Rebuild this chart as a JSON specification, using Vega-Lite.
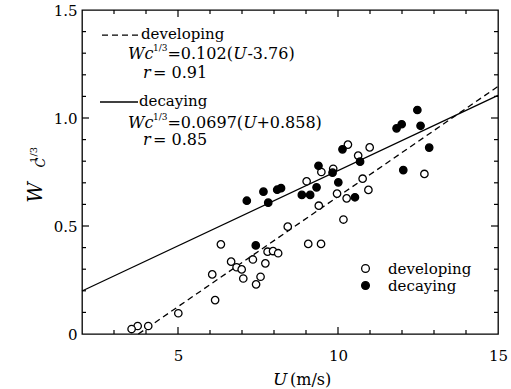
{
  "$schema": "https://vega.github.io/schema/vega-lite/v6.json",
  "width": 416,
  "height": 324,
  "autosize": {"type": "none"},
  "padding": {"left": 82, "top": 10, "right": 13, "bottom": 55},
  "background": "white",
  "config": {
    "font": "DejaVu Serif",
    "view": {"stroke": "black", "strokeWidth": 1.3},
    "axis": {"grid": false, "title": null, "domain": false, "ticks": false, "tickSize": 0, "labelColor": "black", "labelFont": "DejaVu Serif", "labelFontSize": 15, "labelFlush": false, "labelOverlap": false}
  },
  "datasets": {
    "pts": [
      {"U": 10.31, "W": 0.877, "type": "developing"},
      {"U": 10.63, "W": 0.826, "type": "developing"},
      {"U": 10.99, "W": 0.864, "type": "developing"},
      {"U": 9.02, "W": 0.707, "type": "developing"},
      {"U": 9.48, "W": 0.75, "type": "developing"},
      {"U": 9.85, "W": 0.765, "type": "developing"},
      {"U": 9.97, "W": 0.65, "type": "developing"},
      {"U": 10.27, "W": 0.628, "type": "developing"},
      {"U": 10.77, "W": 0.719, "type": "developing"},
      {"U": 10.95, "W": 0.667, "type": "developing"},
      {"U": 9.4, "W": 0.594, "type": "developing"},
      {"U": 10.17, "W": 0.53, "type": "developing"},
      {"U": 8.43, "W": 0.497, "type": "developing"},
      {"U": 12.7, "W": 0.741, "type": "developing"},
      {"U": 6.34, "W": 0.415, "type": "developing"},
      {"U": 6.66, "W": 0.335, "type": "developing"},
      {"U": 6.83, "W": 0.309, "type": "developing"},
      {"U": 6.99, "W": 0.299, "type": "developing"},
      {"U": 7.04, "W": 0.257, "type": "developing"},
      {"U": 7.34, "W": 0.345, "type": "developing"},
      {"U": 7.73, "W": 0.327, "type": "developing"},
      {"U": 7.8, "W": 0.381, "type": "developing"},
      {"U": 7.97, "W": 0.384, "type": "developing"},
      {"U": 8.13, "W": 0.374, "type": "developing"},
      {"U": 7.58, "W": 0.265, "type": "developing"},
      {"U": 7.44, "W": 0.23, "type": "developing"},
      {"U": 6.07, "W": 0.276, "type": "developing"},
      {"U": 6.16, "W": 0.157, "type": "developing"},
      {"U": 5.01, "W": 0.096, "type": "developing"},
      {"U": 4.07, "W": 0.037, "type": "developing"},
      {"U": 3.74, "W": 0.037, "type": "developing"},
      {"U": 3.55, "W": 0.023, "type": "developing"},
      {"U": 9.07, "W": 0.417, "type": "developing"},
      {"U": 9.47, "W": 0.417, "type": "developing"},
      {"U": 7.15, "W": 0.617, "type": "decaying"},
      {"U": 7.67, "W": 0.659, "type": "decaying"},
      {"U": 7.82, "W": 0.608, "type": "decaying"},
      {"U": 8.1, "W": 0.668, "type": "decaying"},
      {"U": 8.22, "W": 0.675, "type": "decaying"},
      {"U": 8.87, "W": 0.644, "type": "decaying"},
      {"U": 9.13, "W": 0.644, "type": "decaying"},
      {"U": 9.33, "W": 0.679, "type": "decaying"},
      {"U": 9.39, "W": 0.779, "type": "decaying"},
      {"U": 9.83, "W": 0.747, "type": "decaying"},
      {"U": 10.01, "W": 0.702, "type": "decaying"},
      {"U": 10.14, "W": 0.855, "type": "decaying"},
      {"U": 10.53, "W": 0.633, "type": "decaying"},
      {"U": 10.69, "W": 0.798, "type": "decaying"},
      {"U": 12.48, "W": 1.037, "type": "decaying"},
      {"U": 11.83, "W": 0.952, "type": "decaying"},
      {"U": 11.99, "W": 0.971, "type": "decaying"},
      {"U": 12.58, "W": 0.964, "type": "decaying"},
      {"U": 12.85, "W": 0.863, "type": "decaying"},
      {"U": 12.04, "W": 0.759, "type": "decaying"},
      {"U": 7.43, "W": 0.41, "type": "decaying"}
    ],
    "fits": [
      {"series": "developing", "U": 3.76, "W": 0.0},
      {"series": "developing", "U": 15, "W": 1.146},
      {"series": "decaying", "U": 2, "W": 0.199},
      {"series": "decaying", "U": 15, "W": 1.105}
    ],
    "xmaj": [{"v": 5}, {"v": 10}],
    "xmin": [{"v": 3}, {"v": 4}, {"v": 6}, {"v": 7}, {"v": 8}, {"v": 9}, {"v": 11}, {"v": 12}, {"v": 13}, {"v": 14}],
    "ymaj": [{"v": 0.5}, {"v": 1.0}],
    "ymin": [{"v": 0.1}, {"v": 0.2}, {"v": 0.3}, {"v": 0.4}, {"v": 0.6}, {"v": 0.7}, {"v": 0.8}, {"v": 0.9}, {"v": 1.1}, {"v": 1.2}, {"v": 1.3}, {"v": 1.4}],
    "one": [{}]
  },
  "layer": [
    {
      "data": {"name": "fits"},
      "transform": [{"filter": "datum.series === 'developing'"}],
      "mark": {"type": "line", "color": "black", "strokeWidth": 1.3, "strokeDash": [6, 4]},
      "encoding": {
        "x": {"field": "U", "type": "quantitative", "scale": {"domain": [2, 15], "nice": false, "zero": false},
              "axis": {"orient": "bottom", "values": [5, 10, 15], "labelPadding": 14}},
        "y": {"field": "W", "type": "quantitative", "scale": {"domain": [0, 1.5], "nice": false, "zero": false},
              "axis": {"orient": "left", "values": [0, 0.5, 1, 1.5], "labelPadding": 5, "labelExpr": "datum.value == 0 ? '0' : format(datum.value, '.1f')"}}
      }
    },
    {
      "data": {"name": "fits"},
      "transform": [{"filter": "datum.series === 'decaying'"}],
      "mark": {"type": "line", "color": "black", "strokeWidth": 1.3},
      "encoding": {
        "x": {"field": "U", "type": "quantitative"},
        "y": {"field": "W", "type": "quantitative"}
      }
    },
    {
      "data": {"name": "xmaj"},
      "mark": {"type": "rule", "color": "black", "strokeWidth": 1.2},
      "encoding": {"x": {"field": "v", "type": "quantitative"}, "y": {"datum": 0, "type": "quantitative"}, "y2": {"datum": 0.0324}}
    },
    {
      "data": {"name": "xmaj"},
      "mark": {"type": "rule", "color": "black", "strokeWidth": 1.2},
      "encoding": {"x": {"field": "v", "type": "quantitative"}, "y": {"datum": 1.5, "type": "quantitative"}, "y2": {"datum": 1.4676}}
    },
    {
      "data": {"name": "xmin"},
      "mark": {"type": "rule", "color": "black", "strokeWidth": 1.2},
      "encoding": {"x": {"field": "v", "type": "quantitative"}, "y": {"datum": 0, "type": "quantitative"}, "y2": {"datum": 0.0185}}
    },
    {
      "data": {"name": "xmin"},
      "mark": {"type": "rule", "color": "black", "strokeWidth": 1.2},
      "encoding": {"x": {"field": "v", "type": "quantitative"}, "y": {"datum": 1.5, "type": "quantitative"}, "y2": {"datum": 1.4815}}
    },
    {
      "data": {"name": "ymaj"},
      "mark": {"type": "rule", "color": "black", "strokeWidth": 1.2},
      "encoding": {"y": {"field": "v", "type": "quantitative"}, "x": {"datum": 2, "type": "quantitative"}, "x2": {"datum": 2.219}}
    },
    {
      "data": {"name": "ymaj"},
      "mark": {"type": "rule", "color": "black", "strokeWidth": 1.2},
      "encoding": {"y": {"field": "v", "type": "quantitative"}, "x": {"datum": 15, "type": "quantitative"}, "x2": {"datum": 14.781}}
    },
    {
      "data": {"name": "ymin"},
      "mark": {"type": "rule", "color": "black", "strokeWidth": 1.2},
      "encoding": {"y": {"field": "v", "type": "quantitative"}, "x": {"datum": 2, "type": "quantitative"}, "x2": {"datum": 2.125}}
    },
    {
      "data": {"name": "ymin"},
      "mark": {"type": "rule", "color": "black", "strokeWidth": 1.2},
      "encoding": {"y": {"field": "v", "type": "quantitative"}, "x": {"datum": 15, "type": "quantitative"}, "x2": {"datum": 14.875}}
    },
    {
      "data": {"name": "pts"},
      "mark": {"type": "point", "shape": "circle", "filled": true, "stroke": "black", "strokeWidth": 1.3, "size": 55, "opacity": 1},
      "encoding": {
        "x": {"field": "U", "type": "quantitative"},
        "y": {"field": "W", "type": "quantitative"},
        "fill": {"field": "type", "type": "nominal", "scale": {"domain": ["developing", "decaying"], "range": ["white", "black"]},
                 "legend": {"orient": "none", "legendX": 276, "legendY": 251, "title": null, "labelFontSize": 15, "labelFont": "DejaVu Serif", "labelColor": "black", "symbolType": "circle", "symbolSize": 60, "symbolStrokeColor": "black", "symbolStrokeWidth": 1.3, "labelOffset": 15, "rowPadding": 1, "padding": 0}}
      }
    },
    {
      "data": {"name": "one"},
      "mark": {"type": "rule", "color": "black", "strokeWidth": 1.3, "strokeDash": [6, 4]},
      "encoding": {"x": {"datum": 2.625, "type": "quantitative"}, "x2": {"datum": 3.75}, "y": {"datum": 1.384, "type": "quantitative"}}
    },
    {
      "data": {"name": "one"},
      "mark": {"type": "rule", "color": "black", "strokeWidth": 1.3},
      "encoding": {"x": {"datum": 2.5625, "type": "quantitative"}, "x2": {"datum": 3.75}, "y": {"datum": 1.074, "type": "quantitative"}}
    },
    {
      "data": {"name": "one"},
      "mark": {"type": "text", "align": "left", "baseline": "alphabetic", "fontSize": 15, "color": "black"},
      "encoding": {"x": {"datum": 3.844, "type": "quantitative"}, "y": {"datum": 1.366, "type": "quantitative"}, "text": {"value": "developing"}}
    },
    {
      "data": {"name": "one"},
      "mark": {"type": "text", "align": "left", "baseline": "alphabetic", "fontSize": 15, "color": "black"},
      "encoding": {"x": {"datum": 3.781, "type": "quantitative"}, "y": {"datum": 1.056, "type": "quantitative"}, "text": {"value": "decaying"}}
    },
    {
      "data": {"name": "one"},
      "mark": {"type": "text", "align": "left", "baseline": "alphabetic", "fontSize": 16, "fontStyle": "italic", "color": "black"},
      "encoding": {"x": {"datum": 3.4375, "type": "quantitative"}, "y": {"datum": 1.273, "type": "quantitative"}, "text": {"value": "Wc"}}
    },
    {
      "data": {"name": "one"},
      "mark": {"type": "text", "align": "left", "baseline": "alphabetic", "fontSize": 9, "color": "black"},
      "encoding": {"x": {"datum": 4.22, "type": "quantitative"}, "y": {"datum": 1.31, "type": "quantitative"}, "text": {"value": "1/3"}}
    },
    {
      "data": {"name": "one"},
      "mark": {"type": "text", "align": "left", "baseline": "alphabetic", "fontSize": 16, "color": "black"},
      "encoding": {"x": {"datum": 4.67, "type": "quantitative"}, "y": {"datum": 1.273, "type": "quantitative"}, "text": {"value": "=0.102("}}
    },
    {
      "data": {"name": "one"},
      "mark": {"type": "text", "align": "left", "baseline": "alphabetic", "fontSize": 16, "fontStyle": "italic", "color": "black"},
      "encoding": {"x": {"datum": 6.73, "type": "quantitative"}, "y": {"datum": 1.273, "type": "quantitative"}, "text": {"value": "U"}}
    },
    {
      "data": {"name": "one"},
      "mark": {"type": "text", "align": "left", "baseline": "alphabetic", "fontSize": 16, "color": "black"},
      "encoding": {"x": {"datum": 7.17, "type": "quantitative"}, "y": {"datum": 1.273, "type": "quantitative"}, "text": {"value": "-3.76)"}}
    },
    {
      "data": {"name": "one"},
      "mark": {"type": "text", "align": "left", "baseline": "alphabetic", "fontSize": 16, "fontStyle": "italic", "color": "black"},
      "encoding": {"x": {"datum": 3.906, "type": "quantitative"}, "y": {"datum": 1.185, "type": "quantitative"}, "text": {"value": "r"}}
    },
    {
      "data": {"name": "one"},
      "mark": {"type": "text", "align": "left", "baseline": "alphabetic", "fontSize": 16, "color": "black"},
      "encoding": {"x": {"datum": 4.219, "type": "quantitative"}, "y": {"datum": 1.185, "type": "quantitative"}, "text": {"value": "= 0.91"}}
    },
    {
      "data": {"name": "one"},
      "mark": {"type": "text", "align": "left", "baseline": "alphabetic", "fontSize": 16, "fontStyle": "italic", "color": "black"},
      "encoding": {"x": {"datum": 3.4375, "type": "quantitative"}, "y": {"datum": 0.954, "type": "quantitative"}, "text": {"value": "Wc"}}
    },
    {
      "data": {"name": "one"},
      "mark": {"type": "text", "align": "left", "baseline": "alphabetic", "fontSize": 9, "color": "black"},
      "encoding": {"x": {"datum": 4.22, "type": "quantitative"}, "y": {"datum": 0.991, "type": "quantitative"}, "text": {"value": "1/3"}}
    },
    {
      "data": {"name": "one"},
      "mark": {"type": "text", "align": "left", "baseline": "alphabetic", "fontSize": 16, "color": "black"},
      "encoding": {"x": {"datum": 4.67, "type": "quantitative"}, "y": {"datum": 0.954, "type": "quantitative"}, "text": {"value": "=0.0697("}}
    },
    {
      "data": {"name": "one"},
      "mark": {"type": "text", "align": "left", "baseline": "alphabetic", "fontSize": 16, "fontStyle": "italic", "color": "black"},
      "encoding": {"x": {"datum": 7.04, "type": "quantitative"}, "y": {"datum": 0.954, "type": "quantitative"}, "text": {"value": "U"}}
    },
    {
      "data": {"name": "one"},
      "mark": {"type": "text", "align": "left", "baseline": "alphabetic", "fontSize": 16, "color": "black"},
      "encoding": {"x": {"datum": 7.45, "type": "quantitative"}, "y": {"datum": 0.954, "type": "quantitative"}, "text": {"value": "+0.858)"}}
    },
    {
      "data": {"name": "one"},
      "mark": {"type": "text", "align": "left", "baseline": "alphabetic", "fontSize": 16, "fontStyle": "italic", "color": "black"},
      "encoding": {"x": {"datum": 3.906, "type": "quantitative"}, "y": {"datum": 0.875, "type": "quantitative"}, "text": {"value": "r"}}
    },
    {
      "data": {"name": "one"},
      "mark": {"type": "text", "align": "left", "baseline": "alphabetic", "fontSize": 16, "color": "black"},
      "encoding": {"x": {"datum": 4.219, "type": "quantitative"}, "y": {"datum": 0.875, "type": "quantitative"}, "text": {"value": "= 0.85"}}
    },
    {
      "data": {"name": "one"},
      "mark": {"type": "text", "align": "left", "baseline": "alphabetic", "fontSize": 17, "fontStyle": "italic", "color": "black"},
      "encoding": {"x": {"datum": 7.97, "type": "quantitative"}, "y": {"datum": -0.236, "type": "quantitative"}, "text": {"value": "U"}}
    },
    {
      "data": {"name": "one"},
      "mark": {"type": "text", "align": "left", "baseline": "alphabetic", "fontSize": 16, "color": "black"},
      "encoding": {"x": {"datum": 8.5, "type": "quantitative"}, "y": {"datum": -0.236, "type": "quantitative"}, "text": {"value": "(m/s)"}}
    },
    {
      "data": {"name": "one"},
      "mark": {"type": "text", "align": "center", "baseline": "alphabetic", "fontSize": 20, "fontStyle": "italic", "angle": 270, "color": "black"},
      "encoding": {"x": {"datum": 0.75, "type": "quantitative"}, "y": {"datum": 0.655, "type": "quantitative"}, "text": {"value": "W"}}
    },
    {
      "data": {"name": "one"},
      "mark": {"type": "text", "align": "center", "baseline": "alphabetic", "fontSize": 13, "fontStyle": "italic", "angle": 270, "color": "black"},
      "encoding": {"x": {"datum": 0.844, "type": "quantitative"}, "y": {"datum": 0.794, "type": "quantitative"}, "text": {"value": "C"}}
    },
    {
      "data": {"name": "one"},
      "mark": {"type": "text", "align": "center", "baseline": "alphabetic", "fontSize": 10, "angle": 270, "color": "black"},
      "encoding": {"x": {"datum": 0.594, "type": "quantitative"}, "y": {"datum": 0.829, "type": "quantitative"}, "text": {"value": "1/3"}}
    }
  ]
}
